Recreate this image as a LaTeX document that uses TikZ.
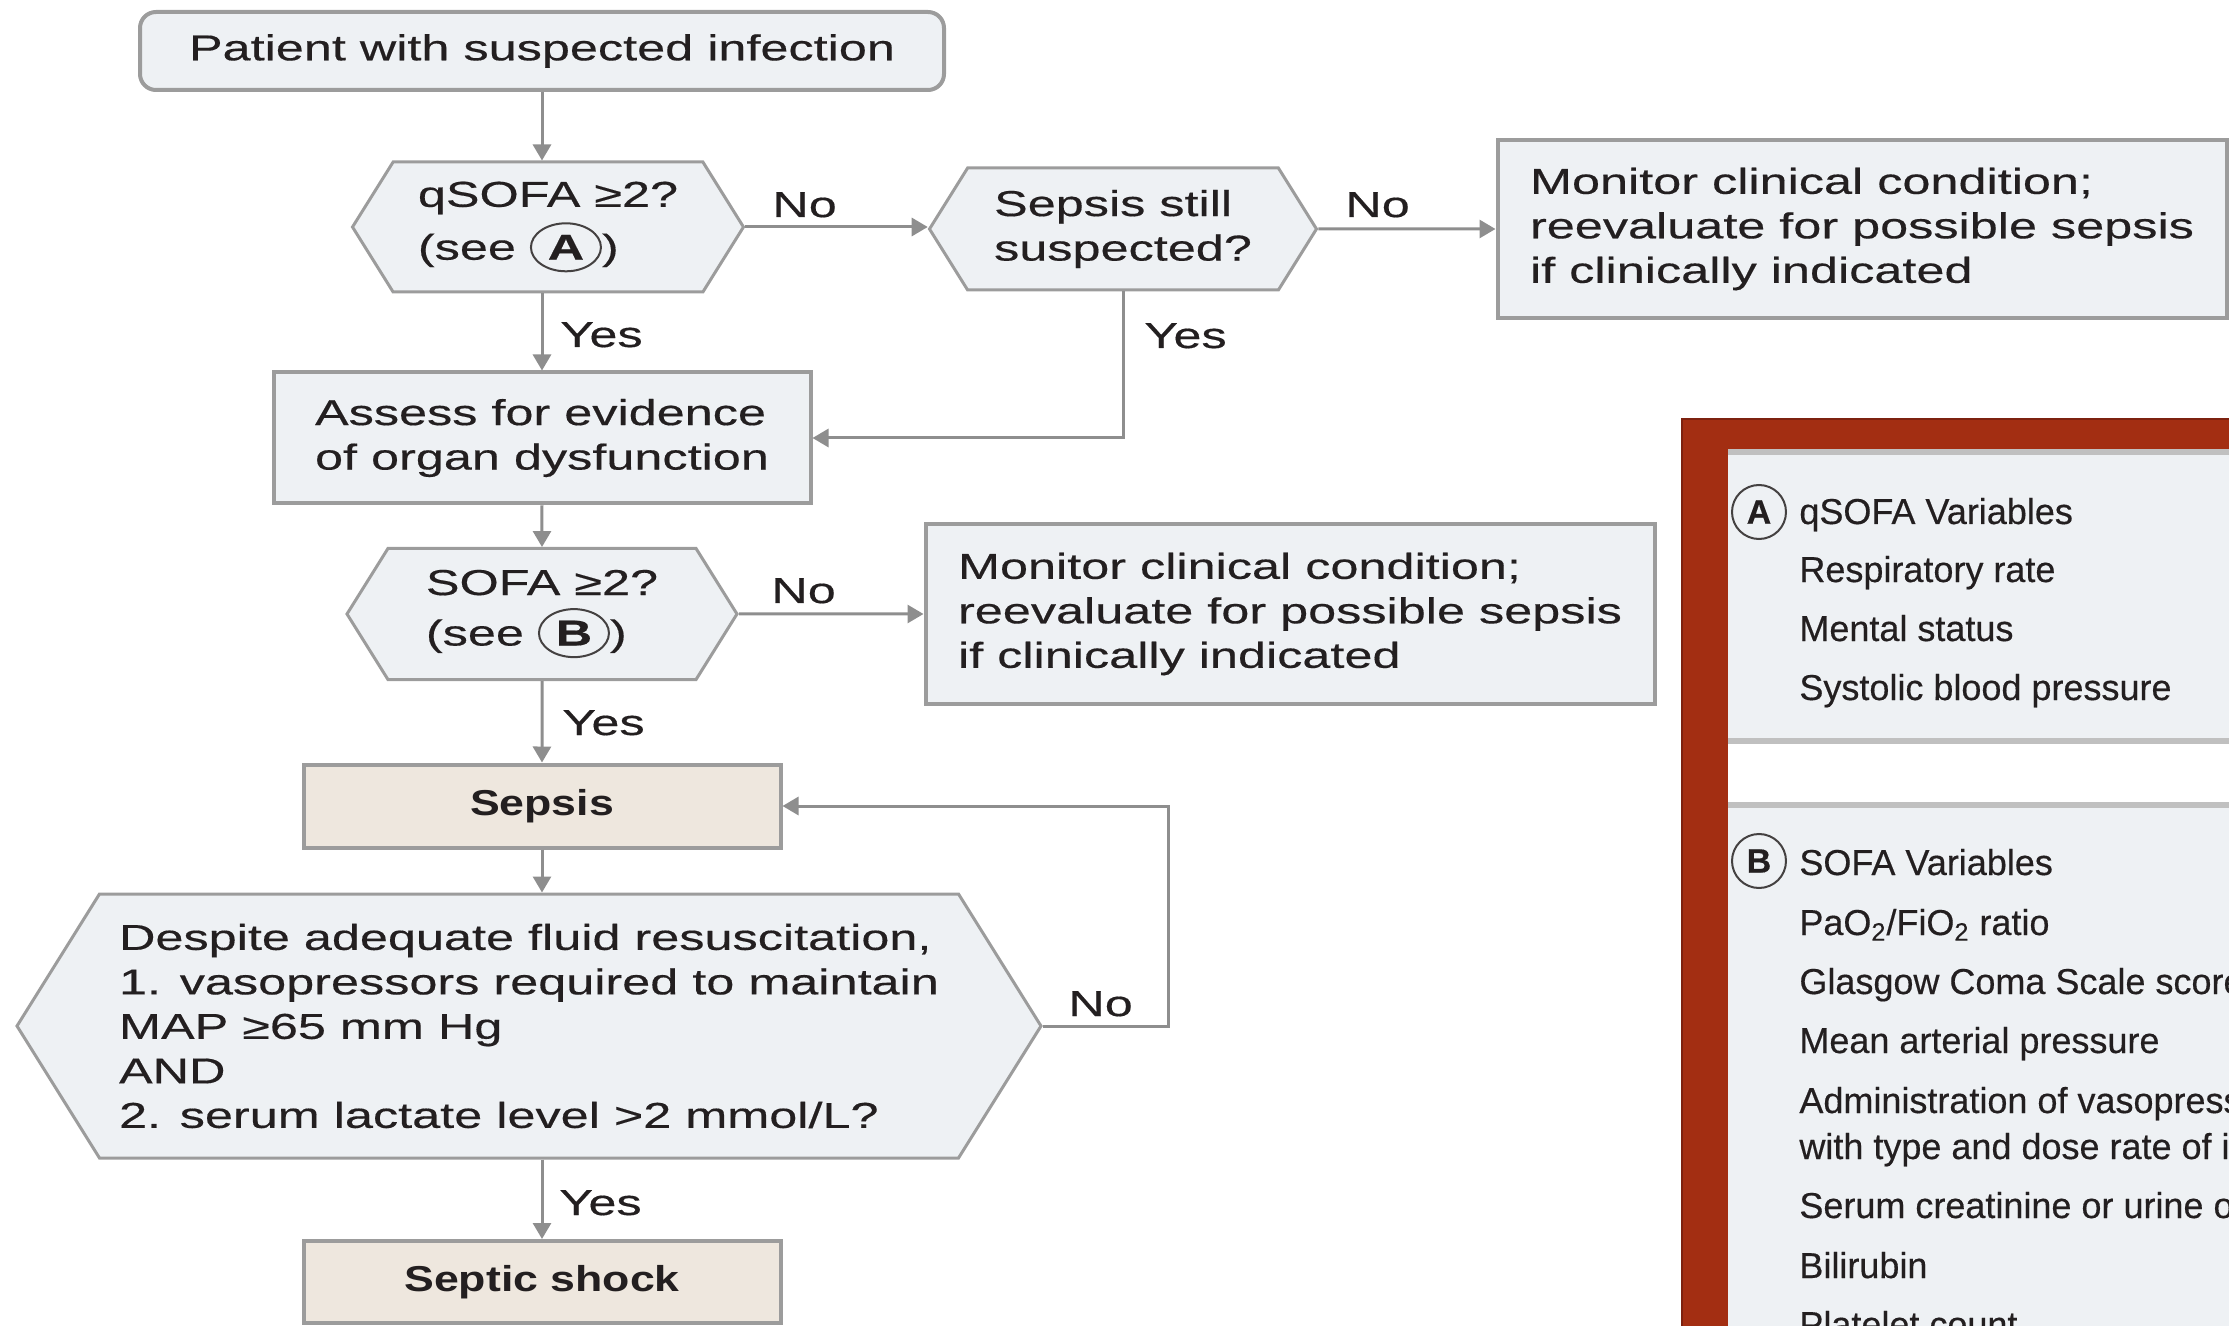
\documentclass[tikz,border=0pt]{standalone}
\usepackage{fontspec}
\setmainfont{Liberation Sans}[FakeStretch=1.4, FakeBold=0.4]
\newfontfamily\endfont{Liberation Sans}[FakeStretch=1.24]
\newfontfamily\panelfont{Liberation Sans}[FakeBold=0.4]
\usetikzlibrary{arrows.meta, positioning, shapes.symbols, shapes.geometric}

\definecolor{inkc}{HTML}{231F20}
\definecolor{boxfill}{HTML}{EEF1F4}
\definecolor{boxline}{HTML}{9C9C9C}
\definecolor{beige}{HTML}{EEE7DE}
\definecolor{arrowc}{HTML}{8E8E8E}
\definecolor{framec}{HTML}{A32E12}
\definecolor{framedark}{HTML}{7D2210}
\definecolor{panelline}{HTML}{C0C0C0}

\newcommand{\seemark}[1]{\tikz[baseline=(mk.base)]\node[ellipse, draw=inkc!85, line width=1pt, minimum width=35pt, minimum height=24pt, inner sep=0pt] (mk) {\textbf{#1}};}

\begin{document}
\begin{tikzpicture}[
x=0.5pt, y=-0.5pt,
font=\fontsize{18}{22.25}\selectfont, text=inkc,
box/.style={rectangle, draw=boxline, line width=2pt, fill=boxfill, align=left, inner sep=0pt},
endbox/.style={box, fill=beige, font=\endfont\fontsize{18}{22.25}\selectfont\bfseries},
decision/.style={signal, signal to=west and east, signal pointer angle=116, draw=boxline, line width=1.5pt, fill=boxfill, align=left, inner sep=0pt},
lbl/.style={anchor=base west, inner sep=0pt},
arrow/.style={draw=arrowc, line width=1.5pt, -{Triangle[length=8pt,width=9pt]}},
varmark/.style={circle, draw=inkc!85, line width=1pt, minimum size=27pt, inner sep=0pt, font=\panelfont\fontsize{17}{20}\selectfont\bfseries},
item/.style={anchor=base west, inner sep=0pt, font=\panelfont\fontsize{18}{21}\selectfont}
]
\useasboundingbox (0,0) rectangle (2229,1326);
\clip (0,0) rectangle (2229,1326);

% flowchart
\node[box, rounded corners=8pt, minimum width=402pt, minimum height=39pt, align=center] (start) at (542,51) {Patient with suspected infection};
\node[decision, minimum width=195.5pt, minimum height=65pt] (qsofa) at (548,227) {qSOFA ≥2?\\[3pt](see \seemark{A})};
\node[decision, minimum width=193.5pt, minimum height=61pt] (still) at (1123,229) {Sepsis still\\suspected?};
\node[box, minimum width=364.5pt, minimum height=89pt] (mon1) at (1862,229) {Monitor clinical condition;\\reevaluate for possible sepsis\\if clinically indicated};
\node[box, minimum width=268.5pt, minimum height=65.5pt] (assess) at (542,438) {Assess for evidence\\of organ dysfunction};
\node[decision, minimum width=195pt, minimum height=65.5pt] (sofa) at (542,614) {SOFA ≥2?\\[3pt](see \seemark{B})};
\node[box, minimum width=364.5pt, minimum height=90pt] (mon2) at (1290,614) {Monitor clinical condition;\\reevaluate for possible sepsis\\if clinically indicated};
\node[endbox, minimum width=238.5pt, minimum height=41.5pt] (sepsis) at (542,806) {Sepsis};
\node[decision, minimum width=512pt, minimum height=132pt] (shockq) at (529,1026) {Despite adequate fluid resuscitation,\\1. vasopressors required to maintain\\MAP ≥65 mm Hg\\AND\\2. serum lactate level >2 mmol/L?};
\node[endbox, minimum width=238.5pt, minimum height=41pt] (shock) at (542,1282) {Septic shock};

\draw[arrow] (start) -- (start |- qsofa.north);
\draw[arrow] (assess |- qsofa.south) -- (assess);
\draw[arrow] (qsofa.east) -- (qsofa.east -| still.west);
\draw[arrow] (still) -- (mon1);
\draw[arrow] (still.south) |- (assess.east);
\draw[arrow] (assess) -- (sofa);
\draw[arrow] (sofa) -- (mon2);
\draw[arrow] (sofa) -- (sepsis);
\draw[arrow] (sepsis) -- (sepsis |- shockq.north);
\draw[arrow] (sepsis |- shockq.south) -- (shock);
\draw[arrow] (shockq.east) -- ++(126,0) |- (sepsis.east);

\node[lbl] (no1) at (772,217) {No};
\node[lbl] (no2) at (1345,217) {No};
\node[lbl] (yes1) at (560,347) {Yes};
\node[lbl] (yes2) at (1144,348) {Yes};
\node[lbl] (no3) at (771,603) {No};
\node[lbl] (yes3) at (562,735) {Yes};
\node[lbl] (no4) at (1068,1016) {No};
\node[lbl] (yes4) at (559,1215) {Yes};

% variables panel
\fill[framec] (1681,418) rectangle (2260,1360);
\draw[framedark, line width=1pt] (1682,1360) |- (2260,419);
\fill[white] (1728,450) rectangle (2260,1360);
\fill[boxfill] (1728,450) rectangle (2260,741);
\fill[boxfill] (1728,803) rectangle (2260,1360);
\draw[panelline, line width=3pt] (1728,452) -- (2260,452);
\draw[panelline, line width=3pt] (1728,741) -- (2260,741);
\draw[panelline, line width=3pt] (1728,805) -- (2260,805);

\node[varmark] (markA) at (1759,512) {A};
\node[item] (hdA) at (1799,524) {qSOFA Variables};
\node[item] (resp) at (1799,582) {Respiratory rate};
\node[item] (ment) at (1799,641) {Mental status};
\node[item] (sbp) at (1799,700) {Systolic blood pressure};

\node[varmark] (markB) at (1759,861) {B};
\node[item] (hdB) at (1799,875) {SOFA Variables};
\node[item] (pao) at (1799,935) {PaO\textsubscript{2}/FiO\textsubscript{2} ratio};
\node[item] (gcs) at (1799,994) {Glasgow Coma Scale score};
\node[item] (map) at (1799,1053) {Mean arterial pressure};
\node[item] (vaso) at (1799,1113) {Administration of vasopressors};
\node[item] (vasob) at (1799,1159) {with type and dose rate of infusion};
\node[item] (creat) at (1799,1218) {Serum creatinine or urine output};
\node[item] (bili) at (1799,1278) {Bilirubin};
\node[item] (plt) at (1799,1337) {Platelet count};
\end{tikzpicture}
\end{document}
